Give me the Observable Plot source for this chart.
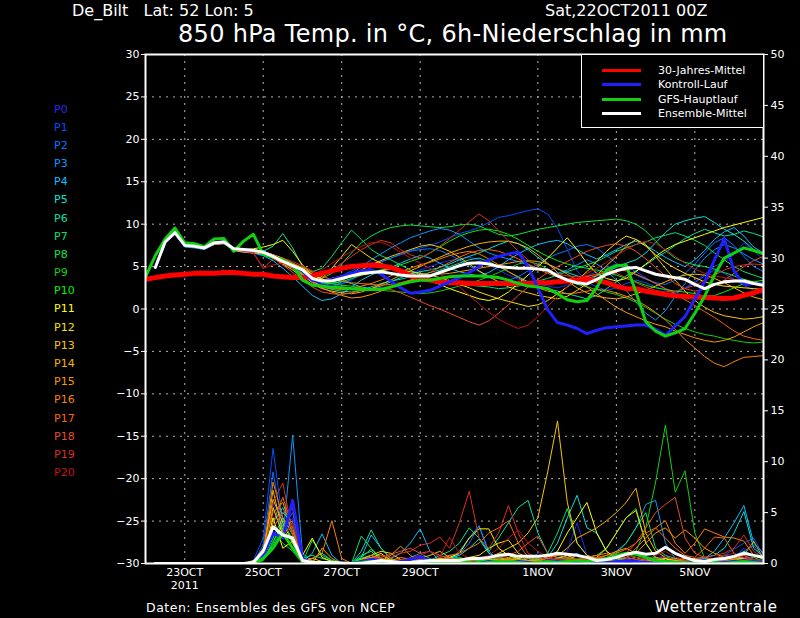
<!DOCTYPE html>
<html><head><meta charset="utf-8">
<script src="https://cdn.jsdelivr.net/npm/d3@7"></script>
<script src="https://cdn.jsdelivr.net/npm/@observablehq/plot@0.6"></script>
<style>
body{margin:0;background:#000;}
#wrap{position:relative;width:800px;height:618px;overflow:hidden;font-family:"DejaVu Sans",sans-serif;color:#fff;background:#000;}
.t{position:absolute;white-space:pre;line-height:1;}
#legend{position:absolute;left:581px;top:54px;width:181px;height:72px;border:1px solid #fff;background:#000;}
.lg{position:absolute;left:20px;width:39px;height:3px;}
.lt{position:absolute;left:76px;font-size:11px;line-height:1;white-space:pre;}
</style></head>
<body><div id="wrap"></div>
<script>
// ---------- data ----------
const startISO = "2011-10-22T00:00:00Z";   // first time step
const endISO = "2011-11-06T18:00:00Z";     // last time step
const stepHours = 6;

const tempTicks = [-30,-25,-20,-15,-10,-5,0,5,10,15,20,25,30];
const tempGrid = [-25,-20,-15,-10,-5,0,5,10,15,20,25];
const precipTicks = [0,5,10,15,20,25,30,35,40,45,50];
const xTickDates = ["2011-10-23","2011-10-25","2011-10-27","2011-10-29","2011-11-01","2011-11-03","2011-11-05"];
const xTickLabels = ["23OCT\n2011","25OCT","27OCT","29OCT","1NOV","3NOV","5NOV"];

const memberNames = ["P0","P1","P2","P3","P4","P5","P6","P7","P8","P9","P10","P11","P12","P13","P14","P15","P16","P17","P18","P19","P20"];
const memberColors = ["#2828f0","#0050ff","#0874ff","#0898ff","#08c0ff","#08e0d8","#08e0a0","#08e070","#10e040","#10d010","#00f000","#ffff00","#f8e000","#f8c800","#f8b000","#f89800","#f88000","#f86800","#e84c28","#d83020","#c01414"];

// 30-year climatology, from 0h (6-hourly)
const climTemp = [3.5,
 3.7,3.9,4.0,4.1,4.2,4.2,4.2,4.3,4.3,
 4.2,4.1,4.1,3.9,3.8,3.7,3.7,3.9,4.2,
 4.5,4.8,5.0,5.1,5.2,5.1,4.9,4.5,3.9,
 3.6,3.4,3.2,3.1,3.1,3.0,3.0,3.0,3.0,
 3.0,3.0,3.0,3.1,3.1,3.2,3.3,3.4,3.5,
 3.4,3.1,2.7,2.4,2.4,2.1,1.9,1.7,1.55,
 1.5,1.4,1.35,1.3,1.25,1.3,1.6,1.9,2.3];

// GFS main run temperature, from 0h
const gfsTemp = [3.8,
 6.3,8.25,9.55,7.8,7.7,7.35,8.25,8.3,6.8,
 8.0,8.8,6.45,6.1,5.8,5.2,3.4,2.8,2.7,
 2.55,2.5,2.4,2.3,2.3,2.3,2.6,2.9,3.2,
 3.4,3.4,3.6,3.8,3.9,3.9,3.9,3.8,3.7,
 3.4,3.0,2.7,2.6,2.4,1.8,1.1,0.85,1.0,
 2.5,4.6,5.1,5.2,2.0,-1.5,-2.6,-3.2,-2.8,
 -2.3,-0.5,1.5,4.0,6.0,6.6,7.2,6.9,6.5];

// the following series start at 6h
const ctrlTemp = [4.9,7.9,9.0,7.5,7.4,7.2,7.8,7.9,7.1,
 7.0,6.9,6.7,6.2,5.7,5.1,4.5,3.4,3.2,
 3.5,3.8,4.2,4.5,4.6,4.1,3.3,2.5,1.85,
 2.0,2.2,2.7,3.2,3.7,4.3,5.0,5.8,6.2,
 6.5,6.7,5.0,2.5,-0.1,-1.6,-1.9,-2.3,-2.9,
 -2.5,-2.2,-2.1,-2.0,-1.9,-1.9,-2.4,-3.1,-2.0,
 -0.9,1.2,3.2,5.8,8.3,4.5,2.9,3.0,3.0];

const meanTemp = [4.9,7.9,9.0,7.5,7.4,7.2,7.8,7.9,7.1,
 7.0,6.9,6.7,6.2,5.6,5.1,4.6,3.6,3.3,
 3.3,3.6,3.9,4.2,4.3,4.4,4.2,4.0,3.9,
 3.9,3.9,4.3,4.7,5.1,5.4,5.45,5.3,5.0,
 4.9,4.8,4.8,4.7,4.6,3.9,3.4,3.1,2.95,
 3.5,4.1,4.5,4.8,4.9,4.5,4.1,3.9,3.7,
 3.5,2.9,2.4,2.9,3.2,3.3,3.3,3.0,2.8];

const gfsPrec = [0,0,0,0,0,0,0,0,0,
 0,0,0.5,1.5,3.0,1.5,0.3,0,0,
 0,0,0,0.1,0.2,0.1,0,0,0.1,
 0.2,0.1,0,0.1,0.2,0.1,0,0.1,0.2,
 0.1,0.1,0,0.1,0.2,0.1,0.2,0.3,0.2,
 0.3,0.5,0.8,1.0,0.9,0.6,0.3,0.2,0.1,
 0,0.1,0.2,0.1,0,0.1,0.2,0.1,0];

const ctrlPrec = [0,0,0,0,0,0,0,0,0,
 0,0,0.8,3.0,2.5,6.2,0.5,0,0,
 0,0,0,0.2,0.4,0.3,0,0.2,0.4,
 0.6,0.3,0.2,0,0.2,0.1,0,0.2,0.1,
 0,0.2,0.1,0,0.3,0.2,0.1,0,0.2,
 0.1,0,0.2,0.3,0.2,0.1,0,0.2,0.1,
 0,0.2,0.3,0.2,0.1,0.2,0.3,0.2,0.1];

const meanPrec = [0,0,0,0,0,0,0,0,0,
 0,0.1,1.2,3.6,2.8,2.5,0.3,0.1,0.1,
 0.1,0.05,0,0,0.15,0.3,0.2,0.1,0.1,
 0.2,0.3,0.3,0.3,0.3,0.5,0.5,0.6,0.8,
 0.9,0.7,0.7,0.7,0.8,1.0,0.9,0.8,0.6,
 0.3,0.4,0.6,0.9,1.1,0.9,1.0,1.6,1.0,
 0.6,0.3,0.2,0.4,0.5,0.7,1.0,0.8,0.6];

// ensemble members: 850 hPa temperature, from 6h
const tempP0 = [4.8,7.8,8.9,7.4,7.3,7.1,7.9,8.0,7.2, 6.9,6.8,6.6,6.0,5.3,4.6,3.9,3.2,2.8, 2.6,2.9,3.4,4.0,4.4,4.6,4.3,4.0,4.2, 4.6,5.0,5.4,5.7,5.9,6.1,5.8,5.2,4.6, 4.0,3.5,3.2,2.9,2.7,2.5,2.8,3.3,3.9, 4.4,4.9,5.3,5.0,4.4,3.7,3.0,2.4,2.0, 2.5,3.2,4.1,5.0,5.6,6.4,7.8,6.9,5.8];
const tempP1 = [5.0,8.0,9.1,7.6,7.3,7.2,7.7,7.9,7.0, 7.1,7.0,6.8,6.3,5.8,5.2,4.4,3.5,3.1, 3.4,3.9,4.5,5.0,5.3,5.6,6.0,6.5,6.9, 7.2,7.5,7.9,8.4,8.9,9.2,9.6,10.2,10.8, 11.0,11.3,11.6,11.8,11.2,9.5,7.0,4.5,3.2, 2.6,2.2,2.5,3.0,3.4,3.1,2.6,2.2,1.9, 2.4,3.1,3.9,4.6,4.2,3.5,2.8,2.2,1.8];
const tempP2 = [4.9,7.9,9.0,7.5,7.5,7.3,7.8,7.8,7.1, 7.0,6.9,6.7,6.3,5.7,5.0,4.2,3.4,3.0, 2.8,3.0,3.5,4.2,4.9,5.5,6.0,6.4,6.8, 7.0,7.1,6.9,6.4,5.8,5.1,4.4,3.9,3.6, 3.4,3.8,4.5,5.3,6.0,6.5,6.9,7.4,7.6, 7.2,6.3,5.4,4.6,4.0,3.5,3.1,2.9,3.4, 4.2,5.3,6.6,7.8,8.4,7.5,6.2,5.0,4.4];
const tempP3 = [4.9,7.8,8.9,7.5,7.4,7.2,7.7,7.8,7.0, 6.8,6.6,6.4,6.0,5.5,4.9,4.2,3.3,2.7, 2.5,3.2,4.1,5.0,5.8,6.5,7.2,7.8,8.4, 8.8,9.2,9.5,9.3,8.8,8.0,7.2,6.6,6.2, 5.9,5.6,5.2,4.8,4.4,4.2,4.6,5.2,5.8, 5.3,4.5,3.4,2.2,0.8,-0.5,-1.3,-0.2,1.5, 3.0,4.6,6.0,7.0,7.6,7.2,6.5,5.8,5.3];
const tempP4 = [4.8,7.8,8.8,7.3,7.2,7.0,7.6,7.7,6.9, 6.7,6.6,6.3,5.7,4.8,3.8,2.7,1.6,1.0, 1.2,1.8,2.6,3.4,4.0,4.5,4.9,5.4,5.9, 6.3,6.0,5.4,4.8,4.4,4.1,3.9,4.3,5.0, 5.8,6.5,7.1,7.6,7.9,8.1,7.7,7.0,6.4, 5.9,6.4,7.0,7.6,8.0,7.5,6.8,6.1,5.5, 5.0,5.8,6.9,8.2,9.1,9.6,8.6,7.3,6.6];
const tempP5 = [5.0,8.0,9.0,7.5,7.4,7.3,7.9,7.9,7.1, 7.0,6.8,6.5,6.1,5.6,5.1,4.3,3.5,3.1, 3.0,3.3,3.0,2.6,2.4,2.7,3.2,3.7,4.1, 4.4,4.6,4.9,5.3,5.8,6.2,6.6,7.1,7.6, 8.0,7.7,7.0,6.1,5.3,4.7,4.3,3.9,3.6, 3.9,4.4,4.9,5.4,5.8,6.6,7.8,9.0,10.0, 10.4,10.7,10.9,10.2,9.4,8.8,8.0,7.0,6.4];
const tempP6 = [4.9,7.9,9.0,7.6,7.5,7.3,7.8,8.0,7.2, 7.1,7.0,6.8,7.4,8.9,7.2,5.0,3.3,2.6, 2.3,2.1,2.0,2.2,2.6,3.0,3.3,3.5,3.8, 4.0,4.3,4.6,5.0,5.4,5.8,6.0,5.6,5.0, 4.4,3.8,3.2,2.7,2.4,2.1,1.8,1.5,1.2, 1.6,2.4,3.2,3.9,4.5,5.2,6.0,6.7,7.5, 8.3,8.9,9.4,9.0,8.6,8.8,9.2,8.9,8.5];
const tempP7 = [4.8,7.9,9.0,7.5,7.4,7.3,7.8,7.9,7.1, 6.9,6.8,6.6,6.1,5.7,5.3,4.9,4.4,4.8, 6.2,7.8,9.3,8.2,7.0,6.3,5.8,5.2,4.6, 4.0,3.6,3.2,3.0,2.9,2.8,2.7,2.6,2.4, 2.5,2.7,3.0,3.3,3.6,4.0,4.4,4.8,5.2, 5.6,6.2,6.8,7.2,7.6,7.9,8.4,8.7,9.0, 8.6,8.1,7.5,6.6,5.8,5.0,4.4,4.0,3.6];
const tempP8 = [4.9,7.9,9.0,7.5,7.4,7.2,7.8,7.9,7.1, 7.0,6.9,6.7,6.3,5.8,5.3,4.7,4.0,3.6, 4.2,5.3,6.6,7.8,8.6,9.2,9.6,9.8,9.9, 9.8,9.7,9.6,9.7,9.9,10.0,9.8,9.3,8.8, 8.6,8.8,9.1,9.4,9.6,9.8,10.0,10.2,10.3, 10.4,10.5,10.6,10.4,10.0,9.2,8.0,6.9,6.0, 5.5,5.2,5.0,4.7,4.3,3.9,3.5,3.2,2.9];
const tempP9 = [5.0,8.0,9.1,7.6,7.5,7.3,7.8,7.9,7.1, 7.0,6.9,6.7,6.2,5.6,5.0,4.3,3.6,3.2, 3.0,2.8,2.7,2.5,2.3,2.2,2.1,2.0,1.9, 1.8,1.9,2.1,2.4,2.7,3.0,3.4,3.8,4.3, 4.8,5.3,5.6,5.3,4.7,4.0,3.4,2.9,2.6, 2.3,2.0,1.7,1.3,0.8,0.2,-0.5,-1.2,-1.8, -2.3,-2.7,-3.0,-3.2,-3.5,-3.7,-3.9,-4.0,-3.9];
const tempP10 = [4.9,7.9,9.0,7.5,7.4,7.2,7.8,7.9,7.1, 7.0,6.9,6.6,6.1,5.5,4.9,4.2,3.5,3.1, 3.0,3.2,3.6,4.0,4.3,4.6,4.9,5.2,5.6, 6.0,6.6,7.3,8.0,8.6,9.0,9.3,9.4,9.2, 8.8,8.2,7.5,6.8,6.2,5.7,5.3,5.0,4.8, 4.6,4.3,4.0,3.6,3.2,2.8,2.5,2.3,2.1, 2.0,1.8,1.5,1.6,2.0,2.5,3.0,3.2,3.4];
const tempP11 = [4.9,7.9,8.9,7.5,7.4,7.2,7.8,7.9,7.1, 7.0,7.1,7.3,7.6,8.1,6.8,5.2,4.0,3.5, 3.4,3.5,3.8,4.0,4.2,4.5,4.7,4.5,4.2, 3.8,3.3,2.9,2.4,2.0,1.6,1.2,1.0,1.3, 2.0,3.0,4.0,5.0,6.0,7.2,8.4,7.0,5.4, 4.2,3.6,3.3,3.6,4.4,5.3,6.2,7.0,7.6, 8.0,8.4,8.8,9.2,9.6,9.9,10.2,10.5,10.8];
const tempP12 = [4.8,7.8,9.0,7.5,7.3,7.2,7.7,7.8,7.1, 7.0,6.9,6.8,6.4,6.0,5.4,4.8,4.1,3.6, 4.8,6.2,7.6,6.8,6.0,5.4,4.9,4.6,4.4, 4.2,4.0,3.7,3.3,2.9,2.5,2.0,1.6,1.2, 0.9,0.6,0.3,0.5,1.0,1.8,2.6,3.4,4.4, 5.6,6.8,7.8,8.6,8.2,7.4,6.4,5.5,4.8, 4.2,3.7,3.2,2.9,2.7,2.6,2.5,2.4,2.3];
const tempP13 = [4.9,7.9,9.0,7.5,7.4,7.2,7.8,7.9,7.1, 7.0,6.9,6.7,6.2,5.6,5.0,4.4,3.7,3.4, 3.6,3.9,4.2,4.6,5.2,5.7,6.2,6.6,7.0, 7.4,7.6,7.3,6.8,6.1,5.3,4.5,3.8,3.2, 2.6,2.2,1.9,1.6,1.4,1.2,1.5,2.2,3.0, 4.0,5.1,6.2,7.4,8.2,7.6,6.2,4.8,3.4, 2.1,1.0,0.2,-0.4,-0.8,-1.0,-1.2,-1.1,-0.9];
const tempP14 = [4.9,7.9,9.0,7.5,7.4,7.1,7.6,7.7,6.9, 6.7,6.6,6.5,6.0,5.3,4.6,3.7,2.9,2.4, 2.1,1.9,1.8,2.0,2.4,2.9,3.4,4.0,4.5, 5.0,5.6,6.1,6.6,7.0,7.4,7.7,7.9,8.0, 8.0,7.7,7.2,6.4,5.4,4.3,3.3,2.5,1.9, 1.5,1.3,1.2,1.4,1.8,2.2,2.7,3.2,3.7, 4.0,4.1,4.0,3.6,3.1,2.5,1.9,1.4,1.1];
const tempP15 = [4.9,7.8,8.9,7.4,7.3,7.2,7.7,7.8,7.0, 6.9,6.8,6.6,6.1,5.4,4.8,4.0,3.1,2.5, 2.0,1.6,1.3,1.4,1.7,2.1,2.6,3.0,3.4, 3.7,3.9,4.1,4.2,4.4,4.6,4.8,5.0,5.2, 5.4,5.6,5.7,5.6,5.3,4.8,4.1,3.4,2.6, 1.8,1.0,0.2,-0.4,-0.9,-1.4,-1.8,-2.1,-2.6, -3.0,-3.4,-3.7,-3.9,-3.7,-3.3,-2.7,-2.1,-1.6];
const tempP16 = [4.9,7.9,9.0,7.5,7.4,7.2,7.7,7.9,7.1, 7.0,6.8,6.5,6.0,5.5,4.9,4.1,3.2,2.7, 2.4,2.3,2.4,2.7,3.0,3.4,3.9,4.4,4.8, 5.2,5.5,5.9,6.3,6.6,6.8,6.5,5.9,5.2, 4.4,3.7,3.0,2.5,2.1,1.9,1.8,1.9,2.1, 2.3,2.2,1.9,1.5,1.0,0.4,-0.4,-1.3,-2.4, -3.6,-4.6,-5.6,-6.4,-6.8,-6.2,-5.7,-5.6,-5.5];
const tempP17 = [4.8,7.9,9.0,7.6,7.4,7.3,7.8,8.0,7.2, 7.1,7.0,6.8,6.4,5.9,5.4,4.9,4.3,3.8, 3.5,3.3,3.1,3.0,2.9,2.8,2.9,3.1,3.4, 3.8,4.3,4.9,5.5,6.1,6.6,6.9,7.0,6.8, 6.4,5.9,5.3,4.7,4.2,3.8,3.6,3.6,3.8, 4.1,4.4,4.6,4.5,4.1,3.6,3.0,2.4,1.8, 1.1,0.4,-0.3,-1.0,-1.8,-2.6,-3.2,-3.5,-3.7];
const tempP18 = [4.9,7.9,9.0,7.5,7.4,7.2,7.8,7.9,7.1, 7.0,6.9,6.6,6.0,5.2,4.3,3.5,2.6,2.0, 1.8,1.7,1.9,2.2,2.4,2.5,2.3,1.9,1.4, 0.9,0.4,0.0,-0.5,-1.0,-1.5,-1.9,-1.4,-0.5, 0.5,1.6,2.6,3.5,4.3,5.0,5.6,6.2,6.8, 7.2,7.5,7.7,7.4,6.8,5.9,4.9,3.9,3.0, 2.4,2.1,2.3,2.8,3.4,4.2,5.0,5.7,6.2];
const tempP19 = [5.0,8.0,9.0,7.5,7.4,7.3,7.8,7.9,7.1, 6.8,6.6,4.8,5.9,6.0,5.6,5.1,4.5,4.0, 4.6,5.4,6.2,7.0,7.6,8.1,7.8,7.0,6.4, 6.0,6.6,7.4,8.3,9.3,10.3,11.2,10.4,9.2, 8.0,6.8,5.8,5.0,4.5,4.1,3.9,3.8,3.9, 4.1,4.4,4.2,3.7,3.1,2.6,2.2,2.0,2.1, 2.4,2.8,3.4,4.0,4.6,5.0,5.2,5.3,5.2];
const tempP20 = [4.9,7.9,9.0,7.5,7.4,7.2,7.7,7.9,7.0, 6.9,6.7,4.8,5.2,5.4,5.0,4.5,4.0,4.6, 5.4,6.1,6.8,7.4,7.8,7.9,7.4,6.7,6.0, 5.4,4.8,4.1,3.4,2.6,1.6,0.6,-0.4,-1.2, -1.8,-2.3,-1.9,-0.9,0.3,1.5,2.6,3.5,4.2, 4.8,5.5,6.3,7.0,7.6,8.0,7.7,7.0,6.2, 5.4,4.7,4.2,3.9,3.7,3.5,3.3,3.1,2.9];

// ensemble members: 6h precipitation in mm, from 6h
const precP0 = [0,0,0,0,0,0,0,0,0, 0,0.2,1.5,6.0,3.0,4.5,0.5,0,0, 0,0,0,0.3,0.5,0,0,0.2,0, 0,0.4,0.2,0,0,0.3,0.5,0.2,0, 0,0,0.3,0.6,0.2,0.5,1.2,4.0,0.8, 0,0,0.2,0.4,0.3,0,0.5,0.8,0.2, 0,0,0.2,0.5,0.3,0.6,1.5,0.4,0];
const precP1 = [0,0,0,0,0,0,0,0,0, 0,0.3,2.5,11.3,4.0,3.5,0.3,0,0, 0,0,0,0,0.2,0.1,0,0,0.3, 0.2,0.4,0.3,0.6,0.2,0,0,0.3,0.2, 0.5,0.2,0.3,1.0,0.4,0.3,0.5,0.2,0, 0,0.3,0.4,0,0,0.2,0.6,0.4,0.3, 0.2,0,0,0.3,0.8,1.4,2.0,2.5,0.8];
const precP2 = [0,0,0,0,0,0,0,0,0, 0,0.1,1.8,9.0,3.5,5.0,0.4,0,0.2, 0.1,0,0,0.4,0.6,0.2,0,0,0.5, 0.8,0.3,0.2,0.5,0.9,2.0,3.7,1.0,0.2, 0.3,0.5,0.2,0,0.3,0.6,0.4,0.3,0.2, 0,0.2,0.5,0.3,0.6,0.4,0.2,0.3,0, 0,0.3,0.5,0.2,0.4,0.8,1.2,1.8,0.5];
const precP3 = [0,0,0,0,0,0,0,0,0, 0,0.2,1.0,3.0,2.5,12.6,1.0,0.2,0, 0,0,0,0.5,0.8,0.3,0.2,0,0.6, 1.0,0.5,0.2,0.4,1.2,2.5,3.7,1.2,0.3, 0.2,0,0,0.3,0.5,0.2,0.6,1.0,0.4, 0.2,0.5,1.2,2.0,3.5,5.8,6.2,2.0,0.5, 0.3,0,0.2,0.4,0.2,0.5,0.8,0.3,0.2];
const precP4 = [0,0,0,0,0,0,0,0,0, 0,0,0.8,4.0,5.5,3.0,0.2,1.0,2.9, 0.8,0,0,0.6,2.8,1.5,0.5,1.0,2.0, 3.4,1.2,0.3,0.8,0.5,0.3,0.2,0.5,0.3, 0.4,0.3,0.6,0.2,0,0.3,0.5,0.2,0.3, 0.2,0,0.3,0.6,0.4,0.2,0.5,0.3,0.2, 0,0.2,0.5,1.2,2.5,4.0,5.7,2.0,1.0];
const precP5 = [0,0,0,0,0,0,0,0,0, 0,0.1,0.6,2.5,4.5,2.0,0.3,0,0, 0,0,0,0.8,1.2,0.4,0,0.3,0.5, 0.2,0,0.3,0.5,0.8,1.5,2.4,1.0,0.6, 0.3,0.5,0.8,0.4,0.6,2.0,4.5,6.7,3.5, 3.0,1.2,0.5,0.3,0.2,0.4,0.6,0.3,0.2, 0.2,0.4,0.6,0.8,1.5,3.0,5.1,1.5,0.6];
const precP6 = [0,0,0,0,0,0,0,0,0, 0,0,0.5,3.5,5.0,4.0,0.2,0.5,1.0, 0.3,0,0,1.2,3.3,1.5,0.5,0.2,0.3, 0.5,0.3,0.8,1.2,2.0,3.5,2.5,1.2,2.5, 4.0,5.5,6.2,3.0,1.0,0.6,0.5,0.3,0.2, 0.1,0.3,0.5,0.8,1.0,0.6,0.4,0.3,0.5, 0.2,0.4,0.3,0.5,0.8,0.6,1.2,0.8,0.4];
const precP7 = [0,0,0,0,0,0,0,0,0, 0,0,0.3,2.0,4.2,3.2,0.5,0.8,0.5, 0.2,0,0,2.7,1.5,0.5,0.3,0.2,0.4, 0.6,0.4,0.2,0.3,0.5,0.4,0.2,0.3,0.6, 0.8,0.4,0.3,0.5,1.0,3.0,5.4,2.0,0.8, 0.4,0.6,1.0,2.0,3.5,5.0,1.5,0.8,0.5, 0.2,0,0.3,0.5,0.3,0.2,0.6,0.4,0.3];
const precP8 = [0,0,0,0,0,0,0,0,0, 0,0,0.4,1.8,3.5,2.0,0.1,2.3,0.8, 0.3,0,0,0.5,0.8,0.3,0.2,0,0.2, 0.4,0.3,0.5,0.2,0.6,0.3,0.2,0.4,0.5, 0.3,0.2,0.5,0.3,0.2,0.4,0.3,0.5,0.6, 0.8,1.5,3.0,4.5,5.4,2.0,0.5,0.3,0.2, 0.1,0.2,0.4,0.3,0.5,0.3,0.4,0.6,0.2];
const precP9 = [0,0,0,0,0,0,0,0,0, 0,0,0.6,3.0,2.0,1.2,0,0,0, 0,0,0,0.4,0.6,0.2,0,0,0.3, 0.2,0.1,0,0.3,0.5,0.2,0,0.2,0.3, 0.4,0.2,0.1,0.3,0.2,0.5,0.8,0.4,0.3, 0.5,0.4,0.3,0.6,1.2,3.5,8.0,13.6,7.0, 9.1,3.0,0.5,0.3,0.2,0.4,0.3,0.2,0.1];
const precP10 = [0,0,0,0,0,0,0,0,0, 0,0,0.3,2.2,3.8,2.5,0.2,0,0, 0,0,0,0.6,1.4,0.5,0.2,0,0, 0.1,0.2,0,0.3,0.2,0.4,0.3,0.2,0.3, 0.2,0.1,0.3,0.2,0.5,0.3,0.4,0.2,0.1, 0.3,0.5,0.8,1.0,0.6,0.4,0.3,0.5,0.3, 0.2,0.1,0.3,0.2,0.4,0.6,0.5,0.3,0.2];
const precP11 = [0,0,0,0,0,0,0,0,0, 0,0.1,0.5,4.5,1.5,2.2,0.8,2.5,0.6, 0.2,0,0,0.3,0.5,1.0,0.3,0,0.2, 0.3,0.2,0.4,0.6,1.0,2.5,3.4,3.4,1.5, 0.8,0.5,0.3,0.2,0.6,1.2,3.0,4.5,6.0, 3.0,1.2,0.5,0.3,0.2,0.4,0.3,0.5,0.2, 0.3,0.2,0.1,0.4,0.6,0.3,0.5,0.2,0.1];
const precP12 = [0,0,0,0,0,0,0,0,0, 0,0,0.8,5.5,2.8,1.5,0.3,0.5,0.2, 0,0,0,0.4,0.8,1.2,1.0,0.4,0.2, 0.3,0.2,0.5,0.3,0.4,0.6,0.8,1.5,2.0, 2.3,1.0,0.6,0.3,0.2,0.5,0.8,0.4,0.3, 0.6,1.5,3.0,4.5,5.2,2.0,0.6,0.3,0.4, 0.5,0.3,0.2,0.4,0.3,0.6,0.4,0.3,0.2];
const precP13 = [0,0,0,0,0,0,0,0,0, 0,0.3,1.2,6.3,4.0,2.0,0.5,0.3,0, 0,0,0,0.2,0.5,0.8,0.4,0.2,0.3, 0.5,0.8,1.2,0.6,0.3,0.2,0.4,0.6,1.0, 1.5,2.0,3.0,4.5,9.0,14.0,6.0,2.0,0.8, 0.5,0.3,0.2,0.4,0.6,0.3,0.2,0.5,0.3, 0.4,0.2,0.3,0.5,0.3,0.2,0.4,0.3,0.2];
const precP14 = [0,0,0,0,0,0,0,0,0, 0,0,0.9,7.2,3.0,2.5,0.2,0,1.5, 0.5,0,0,0.3,0.6,0.4,0.2,0,0.3, 0.2,0.4,0.3,0.5,0.2,0.3,0.6,0.4,0.3, 0.5,0.3,0.2,0.4,0.6,0.8,1.5,2.5,3.0, 3.5,4.2,5.0,6.0,7.4,3.0,1.2,0.6,0.4, 0.3,0.5,0.6,0.4,0.3,0.5,0.6,0.3,0.2];
const precP15 = [0,0,0,0,0,0,0,0,0, 0,0.2,1.5,5.0,6.0,3.0,0.4,0,0, 0,0,0,0.3,0.5,0.2,0.8,1.7,0.8, 0.3,0.2,0.4,0.6,0.3,0.2,0.5,0.3,0.4, 0.6,0.4,0.3,0.2,0.5,0.8,0.6,0.4,0.3, 0.5,0.8,1.2,1.5,1.0,2.0,3.0,3.5,2.5, 3.3,2.5,1.5,1.0,0.6,0.4,0.8,2.2,0.5];
const precP16 = [0,0,0,0,0,0,0,0,0, 0,0.1,1.0,8.0,4.5,2.8,0.3,0.5,1.0, 4.2,0.5,0,0.3,0.8,0.5,0.3,0.6,0.4, 0.2,0.4,0.3,0.5,0.2,0.4,0.6,0.3,0.2, 0.4,0.3,0.5,0.8,0.6,0.3,0.5,0.4,0.6, 0.8,1.0,0.6,0.5,1.5,2.5,3.5,4.2,2.0, 1.0,2.0,3.4,3.0,2.6,2.5,2.2,0.8,0.5];
const precP17 = [0,0,0,0,0,0,0,0,0, 0,0,0.7,4.0,6.5,3.5,0.6,0,0, 0,0,0,0.2,0.4,0.3,0.2,0.4,0.5, 0.4,0.3,0.6,0.8,1.0,1.5,2.0,3.0,3.5, 4.2,2.0,0.6,0.3,0.5,0.4,0.3,0.5,0.4, 0.6,0.8,1.0,1.4,2.0,3.0,3.5,2.5,1.5, 0.8,0.6,1.5,2.6,2.5,1.0,0.5,0.3,0.2];
const precP18 = [0,0,0,0,0,0,0,0,0, 0,0,0.9,3.5,5.0,5.4,0.4,0,0, 0,0,0,0.2,0.3,0.6,0.9,1.2,1.5, 1.0,1.2,0.8,0.5,0.3,0.2,0.4,0.6,0.5, 0.8,1.2,2.0,2.7,1.0,0.5,0.3,0.2,0.4, 0.6,0.5,0.8,1.0,2.0,3.5,5.0,5.8,6.5, 2.5,1.0,0.6,0.4,0.3,0.5,0.8,0.4,0.2];
const precP19 = [0,0,0,0,0,0,0,0,0, 0,0.2,0.4,6.0,7.9,3.0,0.2,0,0, 0,0,0,0.2,0.5,0.8,0.6,1.0,1.2, 1.8,2.0,2.6,1.5,4.0,7.1,2.5,1.5,3.0, 5.7,3.0,1.0,0.6,0.4,0.3,0.5,0.8,0.4, 0.3,0.5,0.8,0.6,0.4,0.3,0.5,0.6,0.4, 0.3,0.4,0.6,0.8,1.0,1.5,2.8,1.2,0.5];
const precP20 = [0,0,0,0,0,0,0,0,0, 0,0,0.5,3.0,2.5,4.0,0.5,0,0, 0,0,0,0.3,0.5,0.4,0.2,0.3,0.5, 0.8,1.2,0.6,2.6,1.0,0.5,0.4,0.8,1.5, 2.5,3.3,2.0,1.2,0.6,0.4,0.3,0.5,0.6, 0.4,0.3,0.5,0.8,0.6,0.4,0.8,1.2,0.6, 0.4,0.3,0.2,0.5,0.8,1.0,0.6,0.4,0.3];

const memberTemps = [tempP0,tempP1,tempP2,tempP3,tempP4,tempP5,tempP6,tempP7,tempP8,tempP9,tempP10,tempP11,tempP12,tempP13,tempP14,tempP15,tempP16,tempP17,tempP18,tempP19,tempP20];
const memberPrecs = [precP0,precP1,precP2,precP3,precP4,precP5,precP6,precP7,precP8,precP9,precP10,precP11,precP12,precP13,precP14,precP15,precP16,precP17,precP18,precP19,precP20];

// ---------- build ----------
const t0 = new Date(startISO).getTime();
const stepMs = stepHours * 3600 * 1000;
const series = (values, offset) => values.map((v, i) => ({t: new Date(t0 + (i + offset) * stepMs), v}));
// right axis (precipitation 0..50) shares the frame with the left axis (-30..30)
const precipToTemp = d3.scaleLinear([0, 50], [-30, 30]);
const labelByDate = new Map(xTickDates.map((d, i) => [d, xTickLabels[i]]));

const lineOpts = (stroke, w) => ({x: "t", y: "v", stroke, strokeWidth: w, clip: true});
const precOpts = (stroke, w) => ({x: "t", y: d => precipToTemp(d.v), stroke, strokeWidth: w, clip: true});

const marks = [
  Plot.gridY(tempGrid, {stroke: "#b4b4b4", strokeOpacity: 1, strokeDasharray: "2,5"}),
  Plot.gridX(xTickDates.map(d => new Date(d + "T00:00:00Z")), {stroke: "#b4b4b4", strokeOpacity: 1, strokeDasharray: "2,5"}),
  ...memberTemps.map((a, k) => Plot.line(series(a, 1), lineOpts(memberColors[k], 1))),
  ...memberPrecs.map((a, k) => Plot.line(series(a, 1), precOpts(memberColors[k], 1))),
  Plot.line(series(climTemp, 0), lineOpts("#ff0000", 5)),
  Plot.line(series(ctrlTemp, 1), lineOpts("#2020ff", 3)),
  Plot.line(series(ctrlPrec, 1), precOpts("#2020ff", 3)),
  Plot.line(series(gfsTemp, 0), lineOpts("#10d010", 3)),
  Plot.line(series(gfsPrec, 1), precOpts("#10d010", 3)),
  Plot.line(series(meanTemp, 1), lineOpts("#ffffff", 3)),
  Plot.line(series(meanPrec, 1), precOpts("#ffffff", 3)),
  Plot.frame({stroke: "#ffffff", strokeWidth: 2}),
  Plot.axisY(tempTicks, {anchor: "left", tickSize: 4, tickPadding: 2, label: null, fill: "#ffffff", stroke: "#ffffff"}),
  Plot.axisY(precipTicks.map(p => precipToTemp(p)), {anchor: "right", tickSize: 4, tickPadding: 3, label: null,
    tickFormat: d => String(Math.round(precipToTemp.invert(d))), fill: "#ffffff", stroke: "#ffffff"}),
  Plot.axisX(xTickDates.map(d => new Date(d + "T00:00:00Z")), {anchor: "bottom", tickSize: 0, tickPadding: 4, label: null,
    tickFormat: d => labelByDate.get(d.toISOString().slice(0, 10)), fill: "#ffffff", lineHeight: 1.15})
];

const chart = Plot.plot({
  width: 800, height: 618,
  marginLeft: 145, marginRight: 37, marginTop: 54, marginBottom: 55,
  style: {background: "#000", color: "#fff", fontFamily: "DejaVu Sans", fontSize: "11px"},
  x: {type: "utc", domain: [new Date(startISO), new Date(endISO)], label: null},
  y: {domain: [-30, 30], label: null},
  marks
});

const wrap = document.getElementById("wrap");
wrap.appendChild(chart);

function addText(txt, left, top, size, color, extra) {
  const el = document.createElement("div");
  el.className = "t";
  el.textContent = txt;
  el.style.left = left + "px";
  el.style.top = top + "px";
  el.style.fontSize = size + "px";
  el.style.color = color || "#fff";
  if (extra) Object.assign(el.style, extra);
  wrap.appendChild(el);
  return el;
}

addText("De_Bilt   Lat: 52 Lon: 5", 72, 3, 16);
addText("Sat,22OCT2011 00Z", 545, 3, 16);
addText("850 hPa Temp. in °C, 6h-Niederschlag in mm", 178, 21.5, 24, "#fff", {letterSpacing: "0.3px"});
addText("Daten: Ensembles des GFS von NCEP", 146, 602, 12.5, "#fff", {letterSpacing: "0.5px"});
addText("Wetterzentrale", 655, 600, 15, "#fff", {letterSpacing: "0.8px"});

memberNames.forEach((n, k) => addText(n, 54, 109 + k * 18.18 - 5.5, 11, memberColors[k]));

// legend
const legendNames = ["30-Jahres-Mittel", "Kontroll-Lauf", "GFS-Hauptlauf", "Ensemble-Mittel"];
const legendColors = ["#ff0000", "#2020ff", "#10d010", "#ffffff"];
const lg = document.createElement("div");
lg.id = "legend";
legendNames.forEach((n, k) => {
  const cy = 15 + k * 14.5;
  const sw = document.createElement("div");
  sw.className = "lg";
  sw.style.top = (cy - 1.5) + "px";
  sw.style.background = legendColors[k];
  lg.appendChild(sw);
  const tx = document.createElement("div");
  tx.className = "lt";
  tx.style.top = (cy - 5.5) + "px";
  tx.textContent = n;
  lg.appendChild(tx);
});
wrap.appendChild(lg);
</script>
</body></html>
